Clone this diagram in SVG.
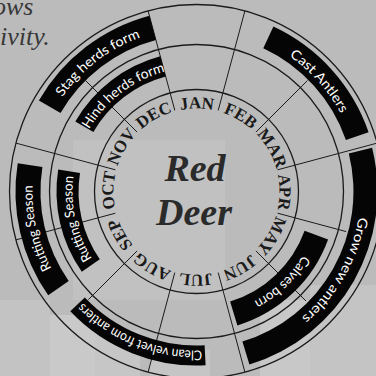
<svg xmlns="http://www.w3.org/2000/svg" width="376" height="376" viewBox="0 0 376 376">
<defs>
<style>
.ring{fill:none;stroke:#1b1b1b;stroke-width:1.3}
.rad{stroke:#1b1b1b;stroke-width:1;fill:none}
.blk{fill:#050505}
.lbl{font-family:Lato,'Liberation Sans',sans-serif;font-size:13.5px;fill:#fff}
.mon{font-family:'Liberation Serif',serif;font-weight:bold;font-size:17px;fill:#1a1a1a}
.title{font-family:'Liberation Serif',serif;font-weight:bold;font-style:italic;font-size:38px;fill:#2a2a2a}
.cap{font-family:'Liberation Serif',serif;font-style:italic;font-size:26px;fill:#383838}
</style>
<path id="pM" d="M0,83 A83,83 0 1 1 0,-83 A83,83 0 1 1 0,83 A83,83 0 1 1 0,-83"/>
<path id="pA" d="M0,164 A164,164 0 1 1 0,-164 A164,164 0 1 1 0,164 A164,164 0 1 1 0,-164"/>
<path id="pC" d="M0,159 A159,159 0 1 1 0,-159 A159,159 0 1 1 0,159 A159,159 0 1 1 0,-159"/>
<path id="pB" d="M0,124 A124,124 0 1 1 0,-124 A124,124 0 1 1 0,124 A124,124 0 1 1 0,-124"/>
</defs>
<rect x="0" y="0" width="376" height="376" fill="#bbbbbb"/>
<g id="background">
<rect fill="#c1c1c1" x="73" y="140" width="152" height="160"/>
<rect fill="#c3c3c3" x="0" y="300" width="50" height="76"/>
<rect fill="#c9c9c9" x="50" y="315" width="45" height="61"/>
<rect fill="#c6c6c6" x="95" y="330" width="45" height="46"/>
<rect fill="#c5c5c5" x="150" y="350" width="60" height="26"/>
<rect fill="#c8c8c8" x="260" y="300" width="50" height="76"/>
<rect fill="#c4c4c4" x="310" y="285" width="66" height="91"/>
</g>
<g id="caption">
<text class="cap" x="-7" y="15">ows</text>
<text class="cap" x="0" y="45">ivity.</text>
</g>
<g transform="translate(196.5,191.5)">
<g id="connectors">
<line class="rad" x1="-48.4" y1="-180.6" x2="-21.7" y2="-81.1"/>
<line class="rad" x1="48.4" y1="-180.6" x2="21.7" y2="-81.1"/>
<line class="rad" x1="111" y1="-111" x2="59.4" y2="-59.4"/>
<line class="rad" x1="180.6" y1="-48.4" x2="81.1" y2="-21.7"/>
<line class="rad" x1="81.1" y1="21.7" x2="149.7" y2="40.1"/>
<line class="rad" x1="59.4" y1="59.4" x2="109.6" y2="109.6"/>
<line class="rad" x1="21.7" y1="81.1" x2="48.4" y2="180.6"/>
<line class="rad" x1="-21.7" y1="81.1" x2="-48.4" y2="180.6"/>
<line class="rad" x1="-59.4" y1="59.4" x2="-108.2" y2="108.2"/>
<line class="rad" x1="-81.1" y1="21.7" x2="-180.6" y2="48.4"/>
<line class="rad" x1="-81.1" y1="-21.7" x2="-180.6" y2="-48.4"/>
<line class="rad" x1="-59.4" y1="-59.4" x2="-111" y2="-111"/>
</g>
<g id="rings">
<circle class="ring" r="187" stroke-width="1.6"/>
<circle class="ring" r="147"/>
<circle class="ring" r="102"/>
</g>
<g id="stag-herds">
<path class="blk" d="M-157.6,-91 A182,182 0 0 1 -47.1,-175.8 L-40.6,-151.6 A157,157 0 0 0 -136,-78.5 Z"/>
<text class="lbl"><textPath href="#pA" startOffset="1438.3" text-anchor="middle" textLength="100" lengthAdjust="spacingAndGlyphs">Stag herds form</textPath></text>
</g>
<g id="hind-herds">
<path class="blk" d="M-121.2,-70 A140,140 0 0 1 -36.2,-135.2 L-30.8,-114.9 A119,119 0 0 0 -103.1,-59.5 Z"/>
<text class="lbl"><textPath href="#pB" startOffset="1087.5" text-anchor="middle" textLength="98" lengthAdjust="spacingAndGlyphs">Hind herds form</textPath></text>
</g>
<g id="cast-antlers">
<path class="blk" d="M76.9,-164.9 A182,182 0 0 1 172.1,-59.3 L149.4,-51.4 A158,158 0 0 0 66.8,-143.2 Z"/>
<text class="lbl"><textPath href="#pA" startOffset="652.6" text-anchor="middle" textLength="78" lengthAdjust="spacingAndGlyphs">Cast Antlers</textPath></text>
</g>
<g id="grow-antlers">
<path class="blk" d="M175.6,-43.8 A181,181 0 0 1 52.9,173.1 L45.9,150.1 A157,157 0 0 0 152.3,-38 Z"/>
<text class="lbl"><textPath href="#pA" startOffset="857.3" text-anchor="middle" textLength="118" lengthAdjust="spacingAndGlyphs">Grow new antlers</textPath></text>
</g>
<g id="calves-born">
<path class="blk" d="M131.6,47.9 A140,140 0 0 1 40.9,133.9 L33.6,110 A115,115 0 0 0 108.1,39.3 Z"/>
<text class="lbl"><textPath href="#pB" startOffset="685" text-anchor="middle" textLength="68" lengthAdjust="spacingAndGlyphs">Calves born</textPath></text>
</g>
<g id="clean-velvet">
<path class="blk" d="M9.1,173.8 A174,174 0 0 1 -126.2,119.8 L-111.7,106 A154,154 0 0 0 8.1,153.8 Z"/>
<text class="lbl"><textPath href="#pC" startOffset="1059.4" text-anchor="middle" textLength="132" lengthAdjust="spacingAndGlyphs">Clean velvet from antlers</textPath></text>
</g>
<g id="rutting-outer">
<path class="blk" d="M-148.3,103.8 A181,181 0 0 1 -178.8,-28.3 L-154.1,-24.4 A156,156 0 0 0 -127.8,89.5 Z"/>
<text class="lbl"><textPath href="#pA" startOffset="1250.8" text-anchor="middle" textLength="86" lengthAdjust="spacingAndGlyphs">Rutting Season</textPath></text>
</g>
<g id="rutting-inner">
<path class="blk" d="M-114.7,80.3 A140,140 0 0 1 -138.3,-21.9 L-116.5,-18.5 A118,118 0 0 0 -96.7,67.7 Z"/>
<text class="lbl"><textPath href="#pB" startOffset="945.8" text-anchor="middle" textLength="86" lengthAdjust="spacingAndGlyphs">Rutting Season</textPath></text>
</g>
<g id="months">
<text class="mon"><textPath href="#pM" startOffset="260.75" text-anchor="middle">JAN</textPath></text>
<text class="mon"><textPath href="#pM" startOffset="304.21" text-anchor="middle">FEB</textPath></text>
<text class="mon"><textPath href="#pM" startOffset="347.67" text-anchor="middle">MAR</textPath></text>
<text class="mon"><textPath href="#pM" startOffset="391.13" text-anchor="middle">APR</textPath></text>
<text class="mon"><textPath href="#pM" startOffset="434.59" text-anchor="middle">MAY</textPath></text>
<text class="mon"><textPath href="#pM" startOffset="478.04" text-anchor="middle">JUN</textPath></text>
<text class="mon"><textPath href="#pM" startOffset="521.5" text-anchor="middle">JUL</textPath></text>
<text class="mon"><textPath href="#pM" startOffset="564.96" text-anchor="middle">AUG</textPath></text>
<text class="mon"><textPath href="#pM" startOffset="608.42" text-anchor="middle">SEP</textPath></text>
<text class="mon"><textPath href="#pM" startOffset="651.88" text-anchor="middle">OCT</textPath></text>
<text class="mon"><textPath href="#pM" startOffset="695.34" text-anchor="middle">NOV</textPath></text>
<text class="mon"><textPath href="#pM" startOffset="738.8" text-anchor="middle">DEC</textPath></text>
</g>
<g id="title">
<text class="title" x="-1.5" y="-10.5" text-anchor="middle">Red</text>
<text class="title" x="-2.5" y="33.5" text-anchor="middle">Deer</text>
</g>
</g>
</svg>
